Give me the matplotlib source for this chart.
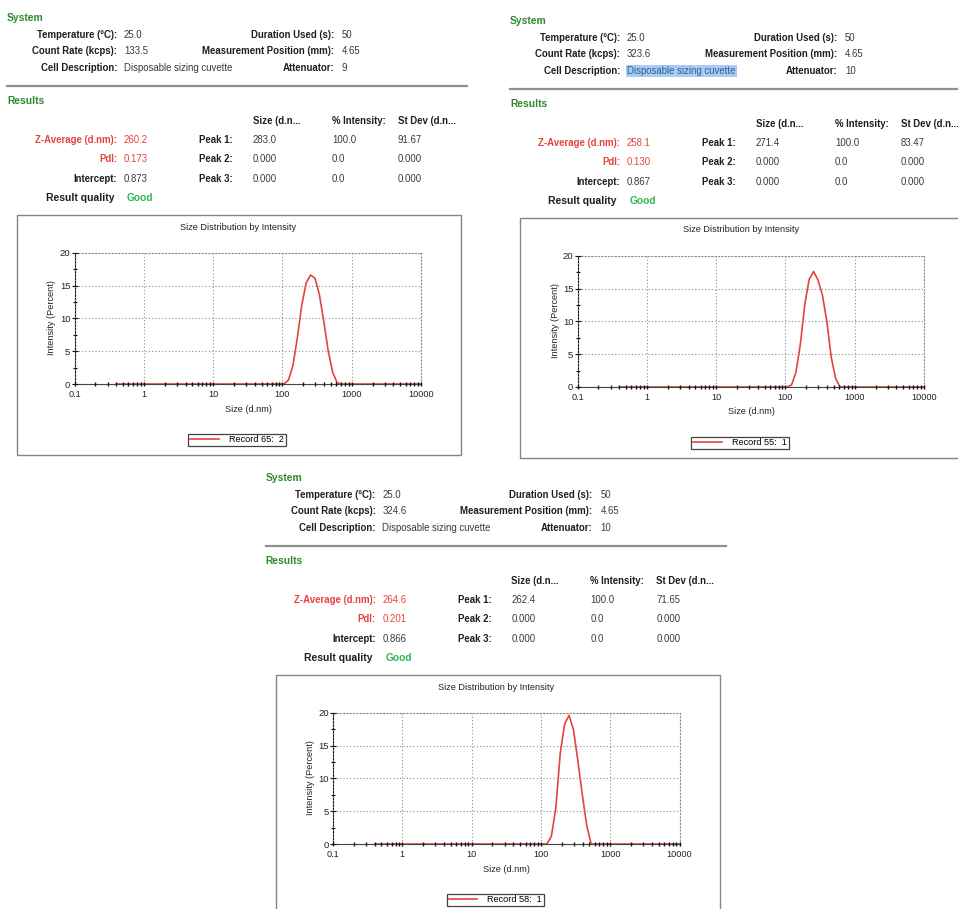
import matplotlib
matplotlib.use("Agg")
import matplotlib.pyplot as plt
from matplotlib.lines import Line2D
from matplotlib.patches import Rectangle
from matplotlib.ticker import LogLocator, NullFormatter

plt.rcParams['font.family'] = ['Liberation Sans', 'DejaVu Sans']

# values read from the three reports
temperature = ["25.0", "25.0", "25.0"]
count_rate = ["133.5", "323.6", "324.6"]
duration = ["50", "50", "50"]
position = ["4.65", "4.65", "4.65"]
attenuator = ["9", "10", "10"]
z_average = ["260.2", "258.1", "264.6"]
pdi = ["0.173", "0.130", "0.201"]
intercept = ["0.873", "0.867", "0.866"]
peak1 = [["283.0", "100.0", "91.67"], ["271.4", "100.0", "83.47"], ["262.4", "100.0", "71.65"]]
peak_empty = ["0.000", "0.0", "0.000"]
records = ["Record 65:  2", "Record 55:  1", "Record 58:  1"]

# size bins (d.nm) and intensity (%) of each record
sizes = [0.4, 105.7, 122.4, 141.8, 164.2, 190.1, 220.2, 255.0, 295.3,
         342.0, 396.1, 458.7, 531.2, 615.1, 712.4, 10000]
intensity = [
    [0, 0, 0.6, 2.8, 7.0, 12.0, 15.4, 16.6, 16.1, 13.6, 9.5, 5.0, 1.8, 0.2, 0, 0],
    [0, 0, 0.3, 2.2, 6.5, 12.5, 16.4, 17.6, 16.3, 14.0, 10.0, 4.5, 1.3, 0, 0, 0],
    [0, 0, 0, 1.2, 5.5, 13.8, 18.3, 19.6, 17.4, 12.6, 7.5, 2.8, 0, 0, 0, 0],
]
x_ticks = [0.1, 1, 10, 100, 1000, 10000]
x_tick_labels = ["0.1", "1", "10", "100", "1000", "10000"]
y_ticks = [0, 5, 10, 15, 20]

offsets = [(0, 0), (503, 3), (258.5, 460)]

W, H = 958, 909
RED = '#e5433d'
GREEN = '#2b8a2b'
GOOD = '#33b852'
LBL = '#1e1e1e'
VAL = '#3a3a3a'

fig = plt.figure(figsize=(W / 100, H / 100), dpi=100)


def fx(x):
    return x / W


def fy(y):
    return 1 - y / H


def txt(x, y, s, size=6.9, **kw):
    fig.text(fx(x), fy(y), s, va='center', fontsize=size, **kw)


def draw_report(i):
    ox, oy = offsets[i]

    txt(ox + 7, oy + 18, "System", size=7.4, weight='bold', color=GREEN)
    rows = [("Temperature (°C):", temperature[i], "Duration Used (s):", duration[i]),
            ("Count Rate (kcps):", count_rate[i], "Measurement Position (mm):", position[i]),
            ("Cell Description:", "Disposable sizing cuvette", "Attenuator:", attenuator[i])]
    for (l1, v1, l2, v2), y in zip(rows, [35, 51, 68]):
        txt(ox + 117, oy + y, l1, weight='bold', color=LBL, ha='right')
        if i == 1 and l1.startswith("Cell"):
            txt(ox + 124, oy + y, v1, color='#2d5d9c',
                bbox=dict(facecolor='#a9cdf1', edgecolor='none', pad=1.0))
        else:
            txt(ox + 124, oy + y, v1, color=VAL)
        txt(ox + 334, oy + y, l2, weight='bold', color=LBL, ha='right')
        txt(ox + 342, oy + y, v2, color=VAL)

    fig.add_artist(Line2D([fx(ox + 7), fx(ox + 467)], [fy(oy + 86)] * 2,
                          transform=fig.transFigure, color='#8e8e8e', lw=1.6))

    txt(ox + 7, oy + 101, "Results", size=7.4, weight='bold', color=GREEN)
    cols = [253, 332, 398]
    for c, h in zip(cols, ["Size (d.n...", "% Intensity:", "St Dev (d.n..."]):
        txt(ox + c, oy + 121, h, weight='bold', color=LBL)

    res = [("Z-Average (d.nm):", z_average[i], RED, "Peak 1:", peak1[i]),
           ("PdI:", pdi[i], RED, "Peak 2:", peak_empty),
           ("Intercept:", intercept[i], None, "Peak 3:", peak_empty)]
    for (lab, val, col, pk, pv), y in zip(res, [140, 159, 179]):
        txt(ox + 117, oy + y, lab, weight='bold', color=col or LBL, ha='right')
        txt(ox + 124, oy + y, val, color=col or VAL)
        txt(ox + 233, oy + y, pk, weight='bold', color=LBL, ha='right')
        for c, v in zip(cols, pv):
            txt(ox + c, oy + y, v, color=VAL)
    txt(ox + 114, oy + 198, "Result quality", size=7.5, weight='bold', color=LBL, ha='right')
    txt(ox + 127, oy + 198, "Good", size=7.4, weight='bold', color=GOOD)

    # chart frame
    fig.add_artist(Rectangle((fx(ox + 17), fy(oy + 455)), 444 / W, 240 / H,
                             transform=fig.transFigure, fill=False,
                             edgecolor='#858585', lw=1.0))
    txt(ox + 238, oy + 227, "Size Distribution by Intensity", size=6.6, color='#222222', ha='center')
    txt(ox + 52, oy + 318, "Intensity (Percent)", size=6.6, color='#222222',
        ha='center', rotation=90)
    txt(ox + 248, oy + 409, "Size (d.nm)", size=6.6, color='#222222', ha='center')

    ax = fig.add_axes([fx(ox + 74.5), fy(oy + 384), 346.5 / W, 131.3 / H])
    ax.plot(sizes, intensity[i], color=RED, lw=1.2, clip_on=False, label=records[i])
    ax.set_xscale('log')
    ax.set_xlim(0.1, 10000)
    ax.set_ylim(0, 20)
    ax.set_xticks(x_ticks)
    ax.set_xticklabels(x_tick_labels)
    ax.xaxis.set_minor_locator(LogLocator(base=10, subs=range(2, 10)))
    ax.xaxis.set_minor_formatter(NullFormatter())
    ax.set_yticks(y_ticks)
    ax.set_yticks([2.5, 7.5, 12.5, 17.5], minor=True)
    ax.grid(True, which='major', linestyle=(0, (1, 2.0)), color='#8c8c8c', lw=0.8)
    ax.set_axisbelow(False)
    for s in ['top', 'right']:
        ax.spines[s].set_linestyle((0, (1, 2.0)))
        ax.spines[s].set_color('#8c8c8c')
        ax.spines[s].set_linewidth(0.8)
    ax.spines['left'].set_color('#111111')
    ax.spines['bottom'].set_color('#444444')
    ax.tick_params(axis='x', which='both', direction='inout', length=3.5, width=1.0,
                   colors='#111111', labelsize=6.6, pad=2.6, labelcolor='#222222')
    ax.tick_params(axis='y', which='major', direction='inout', length=4, width=0.8,
                   colors='#111111', labelsize=6.8, pad=1.0, labelcolor='#222222')
    ax.tick_params(axis='y', which='minor', direction='inout', length=2.5, width=0.8,
                   colors='#111111')
    leg = ax.legend(loc='center', bbox_to_anchor=(fx(ox + 237), fy(oy + 440)),
                    bbox_transform=fig.transFigure, fontsize=6.6, fancybox=False,
                    framealpha=1, edgecolor='#444444', borderpad=0.2,
                    handlelength=3.1, handletextpad=1.1, borderaxespad=0)
    leg.get_frame().set_linewidth(0.9)


for k in range(3):
    draw_report(k)

fig.savefig('out.png', dpi=100, facecolor='white')
